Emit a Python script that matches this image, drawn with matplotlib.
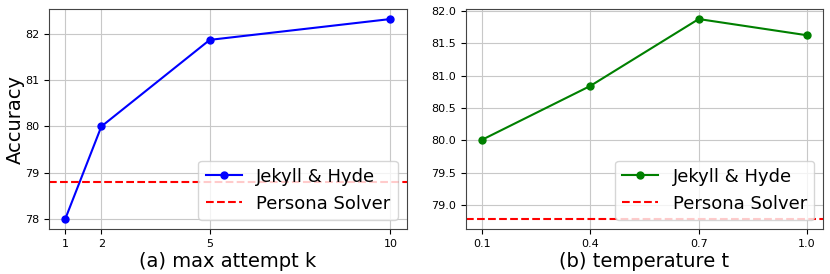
import matplotlib.pyplot as plt

# Data
attempts = [1, 2, 5, 10]
acc_attempts = [78.0, 80.0, 81.87, 82.32]
temps = [0.1, 0.4, 0.7, 1.0]
acc_temps = [80.01, 80.84, 81.87, 81.62]
persona_solver = 78.79

fig, (ax1, ax2) = plt.subplots(1, 2, figsize=(8.3, 2.74), dpi=100)
fig.subplots_adjust(left=0.059, right=0.992, top=0.967, bottom=0.164, wspace=0.165)

# (a) max attempt k
ax1.plot(attempts, acc_attempts, 'o-', color='blue', markersize=5, label='Jekyll & Hyde')
ax1.axhline(persona_solver, color='red', linestyle='--', label='Persona Solver')
ax1.set_xticks(attempts)
ax1.set_xlabel('(a) max attempt k', fontsize=14, labelpad=2)
ax1.set_ylabel('Accuracy', fontsize=14)
ax1.yaxis.set_label_coords(-0.068, 0.5)
ax1.tick_params(labelsize=8)
ax1.grid(True, color='#c8c8c8')
ax1.legend(loc='lower right', fontsize=13)

# (b) temperature t
ax2.plot(temps, acc_temps, 'o-', color='green', markersize=5, label='Jekyll & Hyde')
ax2.axhline(persona_solver, color='red', linestyle='--', label='Persona Solver')
ax2.set_xticks(temps)
ax2.set_xlabel('(b) temperature t', fontsize=14, labelpad=2)
ax2.tick_params(labelsize=8)
ax2.grid(True, color='#c8c8c8')
ax2.legend(loc='lower right', fontsize=13)

for ax in (ax1, ax2):
    for s in ax.spines.values():
        s.set_color('#444444')

plt.savefig('out.png')
